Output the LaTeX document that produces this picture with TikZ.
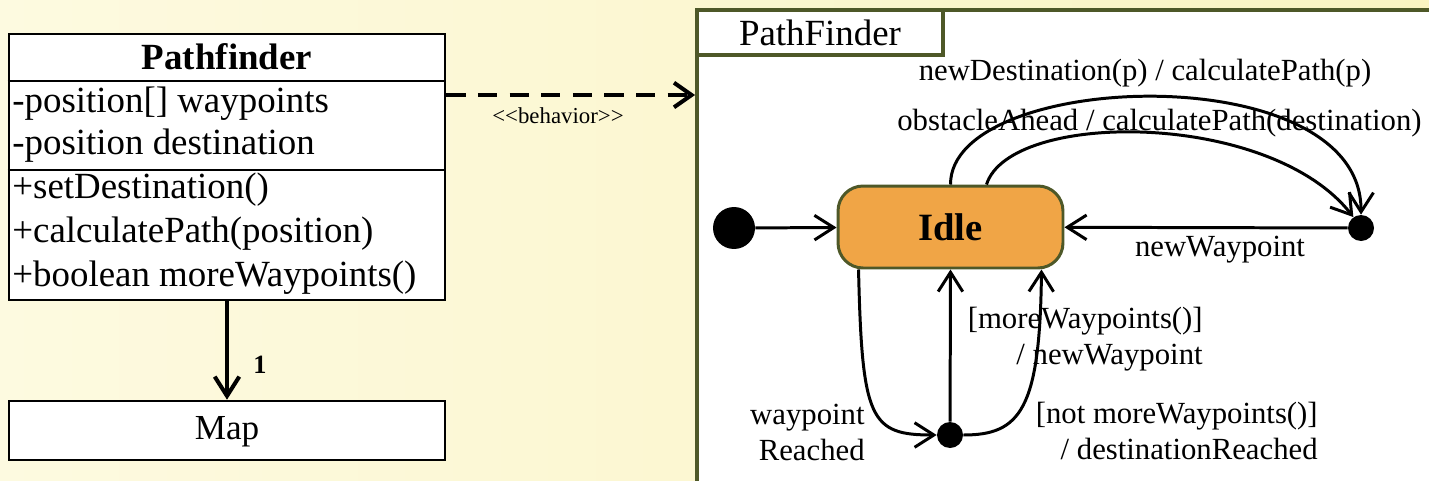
\documentclass[tikz,border=0pt]{standalone}
\usepackage{fontspec}
\setmainfont{Liberation Serif}
\newfontfamily\plainrm{Liberation Serif}
\usetikzlibrary{arrows.meta,calc}
\definecolor{bgL}{RGB}{253,250,224}
\definecolor{bgR}{RGB}{250,244,194}
\definecolor{olive}{RGB}{78,88,40}
\definecolor{idlefill}{RGB}{240,165,70}
\begin{document}
\begin{tikzpicture}[x=0.02cm,y=-0.02cm,
  txt/.style={inner sep=0pt, font=\fontsize{17.5}{20.5}\selectfont},
  clsbox/.style={draw, line width=1.5pt, fill=white, inner sep=0pt},
  clstxt/.style={inner sep=0pt, anchor=west, font=\fontsize{21}{25}\selectfont},
  openarrow/.style={-{Straight Barb[length=11pt,width=14pt]}},
  conn/.style={line width=1.7pt, openarrow},
  dot/.style={circle, fill=black, inner sep=0pt}]
\useasboundingbox (0,0) rectangle (1429,480);
\clip (0,0) rectangle (1429,480);
\shade[left color=bgL, right color=bgR] (0,0) rectangle (1429,480);

% ---- class diagram ----
\node[clsbox, minimum width=8.72cm, minimum height=5.32cm] (cls) at (227,167) {};
\draw[line width=1.5pt] (cls.west |- 0,81) -- (cls.east |- 0,81);
\draw[line width=1.5pt] (cls.west |- 0,170) -- (cls.east |- 0,170);
\node[inner sep=0pt, font=\fontsize{21}{25}\selectfont\bfseries] (clsname) at (227,57) {Pathfinder};
\node[clstxt] (a1) at (12,104) {-position[] waypoints};
\node[clstxt] (a2) at (12,146) {-position destination};
\node[clstxt] (m1) at (12,190) {+setDestination()};
\node[clstxt] (m2) at (12,234) {+calculatePath(position)};
\node[clstxt] (m3) at (12,278) {+boolean moreWaypoints()};

\node[clsbox, minimum width=8.72cm, minimum height=1.18cm] (map) at (227,430.5) {};
\node[inner sep=0pt, font=\fontsize{20}{24}\selectfont] (maptxt) at (227,432) {Map};
\draw[openarrow, line width=2.3pt] (cls.south) -- (map.north);
\node[inner sep=0pt, font=\fontsize{15}{18}\selectfont\bfseries] (mult) at (260,365) {1};

% ---- state machine frame (extends past the right and bottom edges) ----
\node[draw=olive, line width=2.3pt, fill=white, minimum width=20cm, minimum height=12cm, inner sep=0pt] (sm) at (1197,310) {};
\node[draw=olive, line width=2pt, fill=white, minimum width=4.92cm, minimum height=0.9cm, inner sep=0pt, font=\fontsize{21}{25}\selectfont] (tab) at (820,32.5) {PathFinder};

\draw[line width=2.3pt, dash pattern=on 11pt off 7pt, -{Straight Barb[length=10pt,width=14pt]}] (cls.east |- 0,95) -- (sm.west |- 0,95);
\node[inner sep=0pt, font=\plainrm\fontsize{13}{15}\selectfont] (beh) at (558,116) {<<behavior>>};

% states
\node[draw=olive, line width=1.7pt, fill=idlefill, rounded corners=0.5cm, minimum width=4.5cm, minimum height=1.64cm, inner sep=0pt, font=\fontsize{22}{26}\selectfont\bfseries] (idle) at (950.5,227) {Idle};
\node[dot, minimum size=0.84cm] (init) at (734,228) {};
\node[dot, minimum size=0.52cm] (jR) at (1361,228) {};
\node[dot, minimum size=0.52cm] (jB) at (950,435) {};

\draw[conn] (init) -- (idle);
\draw[conn] (jR) -- (idle);
\draw[conn] (idle.north) .. controls (950,70) and (1362,55) .. (jR.north);
\draw[conn] ($(idle.north)+(36,0)$) .. controls (1010,110) and (1270,110) .. (jR.125);
\draw[conn] ($(idle.south west)+(22,0)$) .. controls (862,420) and (870,435) .. (jB.west);
\draw[conn] (jB) -- (idle.south);
\draw[conn] (jB.east) .. controls (1020,435) and (1040,410) .. ($(idle.south east)+(-23,0)$);

% labels
\node[txt] (l1) at (1145,73) {newDestination(p) / calculatePath(p)};
\node[txt, anchor=west] (l2) at (897,123) {obstacleAhead / calculatePath(destination)};
\node[txt] (l3) at (1220,250) {newWaypoint};
\node[txt, align=right, anchor=east] (l4) at (1203,339) {[moreWaypoints()]\\/ newWaypoint};
\node[txt, align=right, anchor=east] (l5) at (1318,431) {[not moreWaypoints()]\\/ destinationReached};
\node[txt, align=right, anchor=east] (l6) at (865,432) {waypoint\\Reached};
\end{tikzpicture}
\end{document}
